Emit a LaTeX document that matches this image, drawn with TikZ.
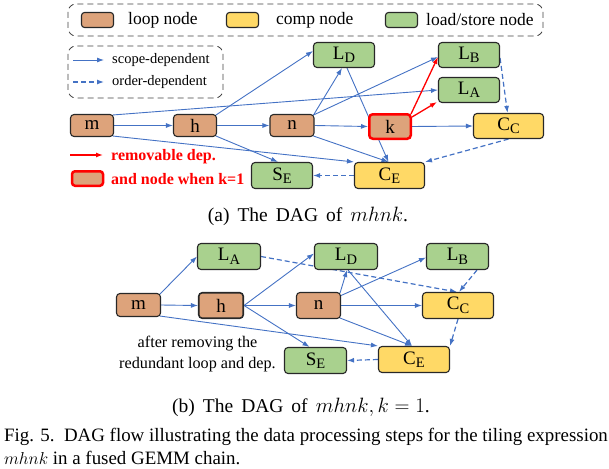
\documentclass[tikz,border=0pt]{standalone}
\usepackage{fontspec}
\setmainfont{Liberation Serif}
\usetikzlibrary{arrows.meta,backgrounds}
\definecolor{loopc}{RGB}{221,163,123}
\definecolor{compc}{RGB}{255,217,102}
\definecolor{lsc}{RGB}{169,209,142}
\definecolor{myblue}{RGB}{68,114,196}
\definecolor{bord}{RGB}{40,40,40}
\newcommand\sbs[1]{\raisebox{-3.5pt}{\fontsize{14.5}{15}\selectfont #1}}
\newcommand\widesp{\spaceskip=8pt\relax}
\tikzset{
  box/.style={draw=bord, line width=1.1pt, rounded corners=3.5pt, inner sep=0pt,
     font=\fontsize{19}{21}\selectfont},
  loopn/.style={box, fill=loopc},
  compn/.style={box, fill=compc},
  lsn/.style={box, fill=lsc},
  sd/.style={-{Latex[length=7pt,width=5pt]}, draw=myblue, line width=0.9pt},
  od/.style={sd, dash pattern=on 5pt off 3pt, line width=1.2pt},
  rd/.style={-{Latex[length=7pt,width=5pt]}, draw=red, line width=1.3pt},
  legbox/.style={draw=black!75, dash pattern=on 6pt off 4pt, line width=0.8pt, rounded corners=8pt},
  legtxt/.style={anchor=west, inner sep=0pt, font=\fontsize{17.5}{19}\selectfont},
  smalltxt/.style={anchor=west, inner sep=0pt, font=\fontsize{14.5}{16}\selectfont},
  redtxt/.style={anchor=west, inner sep=0pt, text=red, font=\fontsize{16}{18}\selectfont\bfseries},
  swatch/.style={draw=bord, line width=1.1pt, rounded corners=3pt, inner sep=0pt, minimum width=32pt, minimum height=15pt},
  subcap/.style={inner sep=0pt, font=\fontsize{19.5}{21}\selectfont},
  figcap/.style={inner sep=0pt, anchor=west, font=\fontsize{18.9}{20}\selectfont},
}
\begin{document}
\begin{tikzpicture}[x=1pt,y=-1pt]
\useasboundingbox (0,0) rectangle (609,468);
% ---------- legend ----------
\draw[legbox] (68,4) rectangle (543,36);
\node[swatch, fill=loopc] (sw1) at (97.5,20) {};
\node[legtxt] (t1) at (128,20) {loop node};
\node[swatch, fill=compc] (sw2) at (242.5,20) {};
\node[legtxt] (t2) at (276,20) {comp node};
\node[swatch, fill=lsc] (sw3) at (401.5,20) {};
\node[legtxt] (t3) at (426,20) {load/store node};
\draw[legbox] (68,46) rectangle (223,98);
\coordinate (a1s) at (73,60); \coordinate (a1e) at (104,60);
\draw[sd] (a1s) -- (a1e);
\node[smalltxt] (t4) at (112,60) {scope-dependent};
\coordinate (a2s) at (73,82); \coordinate (a2e) at (104,82);
\draw[od] (a2s) -- (a2e);
\node[smalltxt] (t5) at (112,82) {order-dependent};
\coordinate (a3s) at (70,155); \coordinate (a3e) at (103,155);
\draw[rd] (a3s) -- (a3e);
\node[redtxt] (t6) at (111,157) {removable dep.};
\node[swatch, fill=loopc, draw=red, line width=2.5pt, minimum width=31pt, minimum height=14.5pt] (sw4) at (87.5,178.5) {};
\node[redtxt] (t7) at (111,179) {and node when k=1};
% ---------- DAG (a) ----------
\node[loopn, minimum width=43pt, minimum height=22pt] (m) at (92,125.5) {m};
\node[loopn, minimum width=43pt, minimum height=22pt] (h) at (195,125.5) {h};
\node[loopn, minimum width=44pt, minimum height=22pt] (n) at (292,125.5) {n};
\node[loopn, draw=red, line width=2.5pt, minimum width=41.5pt, minimum height=24.5pt] (k) at (390,126.5) {k};
\node[lsn, minimum width=61pt, minimum height=25pt] (LD) at (344,55) {L\sbs{D}};
\node[lsn, minimum width=61pt, minimum height=25pt] (LB) at (469,55) {L\sbs{B}};
\node[lsn, minimum width=61pt, minimum height=25pt] (LA) at (469,90) {L\sbs{A}};
\node[compn, minimum width=70pt, minimum height=25pt] (CC) at (508.5,126) {C\sbs{C}};
\node[compn, minimum width=70pt, minimum height=26pt] (CE) at (389.5,175.5) {C\sbs{E}};
\node[lsn, minimum width=61pt, minimum height=26pt] (SE) at (282,175.5) {S\sbs{E}};
\begin{scope}[on background layer]
\draw[sd] (m.east) -- (h.west);
\draw[sd] ([xshift=-1pt,yshift=-1pt]m.north east) -- (LA.west);
\draw[sd] ([xshift=-1pt,yshift=1pt]m.south east) -- (CE.north west);
\draw[sd] ([xshift=-1pt,yshift=1pt]h.south east) -- ([xshift=-4pt]SE.north);
\draw[sd] ([xshift=-1pt,yshift=-1pt]h.north east) -- ([yshift=4pt]LD.west);
\draw[sd] (h.east) -- (n.west);
\draw[sd] ([xshift=-1pt,yshift=-1pt]n.north east) -- ([xshift=-2pt]LD.south);
\draw[sd] ([xshift=-1pt,yshift=-1pt]n.north east) -- ([yshift=-2pt]LB.west);
\draw[sd] ([xshift=-1pt,yshift=1pt]n.south east) -- ([xshift=-1pt]CE.north);
\draw[sd] ([xshift=3pt]LD.south) -- ([xshift=-1pt]CE.north);
\draw[sd] (n.east) -- (k.west);
\draw[sd] (k.east) -- (CC.west);
\draw[od] ([yshift=-3pt]LB.east) -- ([xshift=-1pt]CC.north);
\draw[od] (CC.south) -- (CE.north east);
\draw[od] (CE.west) -- (SE.east);
\end{scope}
\draw[rd] ([xshift=-1pt,yshift=-1pt]k.north east) -- ([yshift=-2pt]LB.west);
\draw[rd] ([xshift=0pt,yshift=-4pt]k.north east) -- ([xshift=-1pt,yshift=1pt]LA.south west);
\node[subcap] (capa) at (308,216) {\widesp (a) The DAG of $mhnk$.};
% ---------- DAG (b) ----------
\node[loopn, minimum width=44pt, minimum height=23pt] (m2) at (138.5,305) {m};
\node[loopn, line width=1.6pt, minimum width=44.5pt, minimum height=25.5pt] (h2) at (221,305.5) {h};
\node[loopn, minimum width=44pt, minimum height=26pt] (n2) at (318.5,305.5) {n};
\node[lsn, minimum width=63pt, minimum height=26pt] (LA2) at (229,256.5) {L\sbs{A}};
\node[lsn, minimum width=63pt, minimum height=26pt] (LD2) at (346,256.5) {L\sbs{D}};
\node[lsn, minimum width=62pt, minimum height=26pt] (LB2) at (457.5,256.5) {L\sbs{B}};
\node[compn, minimum width=71pt, minimum height=26pt] (CC2) at (458,305.5) {C\sbs{C}};
\node[compn, minimum width=71pt, minimum height=26pt] (CE2) at (414,359.5) {C\sbs{E}};
\node[lsn, minimum width=62pt, minimum height=26pt] (SE2) at (315.5,360.5) {S\sbs{E}};
\begin{scope}[on background layer]
\draw[sd] ([xshift=-1pt,yshift=-1pt]m2.north east) -- (LA2.west);
\draw[sd] (m2.east) -- (h2.west);
\draw[sd] ([xshift=-1pt,yshift=1pt]m2.south east) -- (CE2.north west);
\draw[sd] (h2.east) -- ([yshift=3pt]LD2.west);
\draw[sd] (h2.east) -- (n2.west);
\draw[sd] (h2.east) -- ([xshift=-6pt]SE2.north);
\draw[od] (LA2.east) -- ([xshift=-1pt]CC2.north);
\draw[sd] ([xshift=-1pt,yshift=-1pt]n2.north east) -- ([xshift=1pt]LD2.south);
\draw[sd] ([xshift=-1pt,yshift=-4pt]n2.north east) -- ([yshift=-1pt]LB2.west);
\draw[sd] (n2.east) -- (CC2.west);
\draw[sd] ([xshift=-1pt,yshift=1pt]n2.south east) -- ([xshift=-2pt]CE2.north);
\draw[sd] ([xshift=2pt]LD2.south) -- ([xshift=-2pt]CE2.north);
\draw[od] ([xshift=19.5pt]LB2.south) -- ([xshift=1pt]CC2.north);
\draw[od] (CC2.south) -- (CE2.north east);
\draw[od] (CE2.west) -- (SE2.east);
\end{scope}
\node[inner sep=0pt, align=center, font=\fontsize{16.2}{21}\selectfont] (note) at (197.5,354.5) {after removing the\\redundant loop and dep.};
\node[subcap] (capb) at (301,407) {\widesp (b) The DAG of $mhnk, k=1$.};
\node[figcap] (fig1) at (4,437) {Fig. 5.\ \ DAG flow illustrating the data processing steps for the tiling expression};
\node[figcap] (fig2) at (4,458) {$mhnk$ in a fused GEMM chain.};
\end{tikzpicture}
\end{document}
